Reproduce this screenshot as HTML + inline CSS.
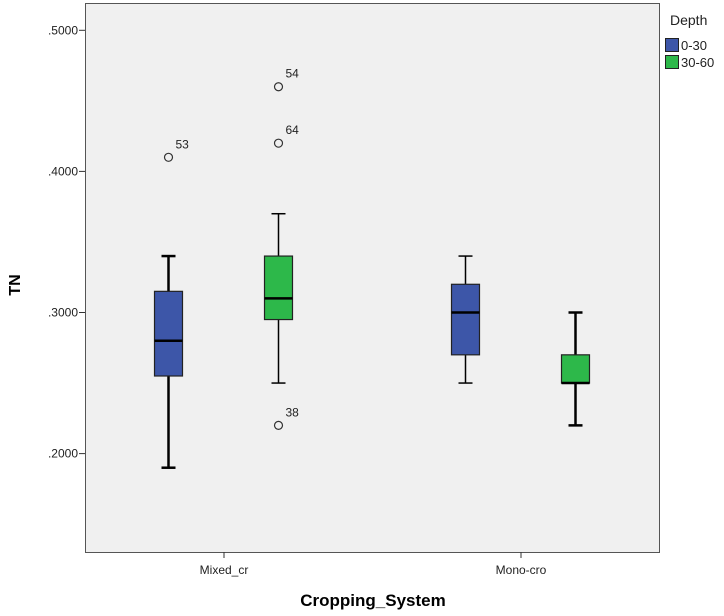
<!DOCTYPE html>
<html><head><meta charset="utf-8"><style>
body{margin:0;background:#fff;width:724px;height:611px;overflow:hidden;font-family:"Liberation Sans",sans-serif}
</style></head><body>
<svg id="chart" width="724" height="611" style="font-family:'Liberation Sans',sans-serif">
<rect x="85.5" y="3.5" width="574" height="549" fill="#f0f0f0" stroke="#555" stroke-width="1"/>
<g id="yaxis"></g>
<g id="xaxis"></g>
<g id="boxes"></g>
<text x="20" y="285" transform="rotate(-90 20 285)" text-anchor="middle" font-weight="bold" font-size="16">TN</text>
<text x="373" y="606" text-anchor="middle" font-weight="bold" font-size="17">Cropping_System</text>
<g>
<text x="670" y="25" font-size="14" fill="#222">Depth</text>
<rect x="665.5" y="38.5" width="13" height="13" fill="#3d56a8" stroke="#222"/>
<text x="681" y="50" font-size="13" fill="#222">0-30</text>
<rect x="665.5" y="55.5" width="13" height="13" fill="#2db84a" stroke="#222"/>
<text x="681" y="67" font-size="13" fill="#222">30-60</text>
</g>
</svg>
<script>
const categories=["Mixed_cr","Mono-cro"];
const yTicks=[0.2,0.3,0.4,0.5];
const yTickLabels=[".2000",".3000",".4000",".5000"];
const seriesNames=["0-30","30-60"];
const mins=[[0.19,0.25],[0.25,0.22]];
const q1s=[[0.255,0.295],[0.27,0.25]];
const medians=[[0.28,0.31],[0.30,0.25]];
const q3s=[[0.315,0.34],[0.32,0.27]];
const maxs=[[0.34,0.37],[0.34,0.30]];
const outlierVals=[[[0.41],[0.46,0.42,0.22]],[[],[]]];
const outlierLabels=[[["53"],["54","64","38"]],[[],[]]];
const colors=["#3d56a8","#2db84a"];
const NS="http://www.w3.org/2000/svg";
function y(v){return 312.5-(v-0.3)*1411;}
function xc(ci){return 224+ci*297;}
function xs(ci,si){return xc(ci)+(si===0?-55.5:54.5);}
function mk(tag,attrs,parent){const e=document.createElementNS(NS,tag);for(const k in attrs)e.setAttribute(k,attrs[k]);parent.appendChild(e);return e;}
const ya=document.getElementById('yaxis'),xa=document.getElementById('xaxis'),bx=document.getElementById('boxes');
yTicks.forEach((t,i)=>{
 const l=mk('line',{x1:79,x2:85,y1:y(t),y2:y(t),stroke:'#333'},ya);
 
 
 const tx=mk('text',{x:78,y:y(t)+4,'text-anchor':'end','font-size':12,fill:'#222'},ya);
 tx.textContent=yTickLabels[i];
 
 
});
categories.forEach((c,ci)=>{
 const l=mk('line',{x1:xc(ci),x2:xc(ci),y1:552,y2:558,stroke:'#333'},xa);
 
 
 const tx=mk('text',{x:xc(ci),y:574,'text-anchor':'middle','font-size':12,fill:'#222'},xa);
 tx.textContent=c;
 
 
 seriesNames.forEach((s,si)=>{
  const cx=xs(ci,si),w=28;
  const g=mk('g',{},bx);
  
  
  const sw=(ci===0&&si===0)||(ci===1&&si===1)?2.5:1.5;
  mk('line',{x1:cx,x2:cx,y1:y(maxs[ci][si]),y2:y(q3s[ci][si]),stroke:'#000','stroke-width':sw},g);
  mk('line',{x1:cx,x2:cx,y1:y(q1s[ci][si]),y2:y(mins[ci][si]),stroke:'#000','stroke-width':sw},g);
  mk('line',{x1:cx-7,x2:cx+7,y1:y(maxs[ci][si]),y2:y(maxs[ci][si]),stroke:'#000','stroke-width':sw},g);
  mk('line',{x1:cx-7,x2:cx+7,y1:y(mins[ci][si]),y2:y(mins[ci][si]),stroke:'#000','stroke-width':sw},g);
  mk('rect',{x:cx-w/2,y:y(q3s[ci][si]),width:w,height:y(q1s[ci][si])-y(q3s[ci][si]),fill:colors[si],stroke:'#222','stroke-width':1.2},g);
  mk('line',{x1:cx-w/2,x2:cx+w/2,y1:y(medians[ci][si]),y2:y(medians[ci][si]),stroke:'#000','stroke-width':2.5},g);
  outlierVals[ci][si].forEach((v,oi)=>{
   const o=mk('circle',{cx:cx,cy:y(v),r:4,fill:'none',stroke:'#333','stroke-width':1.2},g);
   
   
   const t=mk('text',{x:cx+7,y:y(v)-9,'font-size':12,fill:'#222'},g);
   t.textContent=outlierLabels[ci][si][oi];
   
   
  });
 });
});
</script>
</body></html>
